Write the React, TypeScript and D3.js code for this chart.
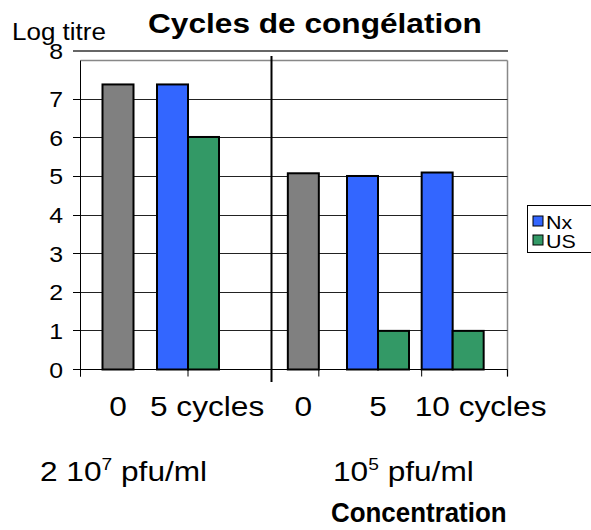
import React from "react";
import * as d3 from "d3";

// ---- data ----
const leftCategories = ["0", "5 cycles"];
const rightCategories = ["0", "5", "10 cycles"];
const leftControl: (number | null)[] = [7.38, null];
const leftNx: (number | null)[] = [null, 7.38];
const leftUS: (number | null)[] = [null, 6.02];
const rightControl: (number | null)[] = [5.08, null, null];
const rightNx: (number | null)[] = [null, 5.01, 5.1];
const rightUS: (number | null)[] = [null, 1.0, 1.0];
const yTicks = [0, 1, 2, 3, 4, 5, 6, 7, 8];
const legendNames = ["Nx", "US"];
const titleText = "Cycles de congélation";
const yTitle = "Log titre";
const concLeft = { base: "2 10", sup: "7", rest: " pfu/ml" };
const concRight = { base: "10", sup: "5", rest: " pfu/ml" };
const xTitle = "Concentration";

// ---- styles ----
const COLORS: Record<string, string> = { ctrl: "#808080", Nx: "#3366FF", US: "#339966" };
const FONT = "'Liberation Sans', Arial, Helvetica, sans-serif";
const SX = 1.13;
const W = 591, H = 530;
const plot = { left: 80.5, right: 507.5, top: 60.5, bottom: 369.5 };
const BAR_W = 31;

const y = d3.scaleLinear().domain([0, 8]).range([plot.bottom, plot.top]);
const xLeft = d3.scaleBand<string>().domain(leftCategories).range([83, 223]);
const xRight = d3.scaleBand<string>().domain(rightCategories).range([266, 490]);

type Bar = { key: string; x: number; w: number; y: number; h: number; fill: string };

function panelBars(scale: d3.ScaleBand<string>, cats: string[], ctrl: (number | null)[], nx: (number | null)[], us: (number | null)[], prefix: string): Bar[] {
  return cats.flatMap((c, i) => {
    const vals = [
      { s: "ctrl", v: ctrl[i] },
      { s: "Nx", v: nx[i] },
      { s: "US", v: us[i] },
    ].filter((d) => d.v != null) as { s: string; v: number }[];
    const center = (scale(c) as number) + scale.bandwidth() / 2;
    const inner = d3
      .scaleBand<string>()
      .domain(vals.map((d) => d.s))
      .range([center - (vals.length * BAR_W) / 2, center + (vals.length * BAR_W) / 2]);
    return vals.map((d) => ({
      key: prefix + c + d.s,
      x: inner(d.s) as number,
      w: inner.bandwidth(),
      y: y(d.v),
      h: y(0) - y(d.v),
      fill: COLORS[d.s],
    }));
  });
}

const Txt = ({ x, y: yy, anchor = "start", size, weight = "normal", sx = SX, children }: any) => (
  <text
    transform={`translate(${x},${yy}) scale(${sx},1)`}
    textAnchor={anchor}
    fontSize={size}
    fontWeight={weight}
    fontFamily={FONT}
    fill="#000"
  >
    {children}
  </text>
);

export default function App() {
  const bars = [
    ...panelBars(xLeft, leftCategories, leftControl, leftNx, leftUS, "L"),
    ...panelBars(xRight, rightCategories, rightControl, rightNx, rightUS, "R"),
  ];
  const topRule = y(8) - 9.5;
  const divX = 271.5;
  const bwL = xLeft.bandwidth();
  const bwR = xRight.bandwidth();
  const xTickPos = [
    plot.left,
    (xLeft("5 cycles") as number) + bwL / 2,
    (xRight("0") as number) + bwR / 2 + BAR_W / 2,
    (xRight("10 cycles") as number) + bwR / 2 - BAR_W,
    plot.right,
  ];
  const catLabel = (scale: d3.ScaleBand<string>, c: string, k: string) => {
    const cx = (scale(c) as number) + scale.bandwidth() / 2;
    const multi = c.includes(" ");
    return (
      <Txt key={k} x={multi ? cx - 38 : cx} y={416} anchor={multi ? "start" : "middle"} size={28}>
        {c}
      </Txt>
    );
  };
  const gy = (v: number) => Math.round(y(v) - 0.5) + 0.5;

  return (
    <svg width={W} height={H} style={{ position: "absolute", left: 0, top: 0, background: "#fff" }}>
      <rect x={0} y={0} width={W} height={H} fill="#fff" />
      {/* frame */}
      <line x1={plot.left} x2={plot.right} y1={plot.top} y2={plot.top} stroke="#888" strokeWidth={1.5} />
      <line x1={plot.right} x2={plot.right} y1={plot.top} y2={plot.bottom + 7} stroke="#888" strokeWidth={1.5} />
      {/* gridlines */}
      {yTicks
        .filter((v) => v > 0 && v < 8)
        .map((v) => (
          <line key={"g" + v} x1={plot.left} x2={plot.right} y1={gy(v)} y2={gy(v)} stroke="#222" strokeWidth={1} />
        ))}
      {/* top rule */}
      <line x1={73} x2={508} y1={topRule} y2={topRule} stroke="#333" strokeWidth={1.5} />
      {/* bars */}
      {bars.map((b) => (
        <rect key={b.key} x={b.x} y={b.y} width={b.w} height={b.h} fill={b.fill} stroke="#000" strokeWidth={2} />
      ))}
      {/* y axis */}
      <line x1={plot.left} x2={plot.left} y1={plot.top} y2={plot.bottom + 7} stroke="#000" strokeWidth={1} />
      {yTicks
        .filter((v) => v < 8)
        .map((v) => (
          <line key={"yt" + v} x1={73} x2={plot.left} y1={gy(v)} y2={gy(v)} stroke="#000" strokeWidth={1} />
        ))}
      {yTicks.map((v) => (
        <Txt key={"yl" + v} x={63} y={(v === 8 ? topRule : y(v)) + 8} anchor="end" size={22}>
          {v}
        </Txt>
      ))}
      {/* x axis */}
      <line x1={73} x2={plot.right} y1={plot.bottom} y2={plot.bottom} stroke="#000" strokeWidth={1} />
      {xTickPos.map((tx, i) => (
        <line key={"xt" + i} x1={tx} x2={tx} y1={plot.bottom} y2={plot.bottom + 7} stroke="#000" strokeWidth={1} />
      ))}
      {/* divider */}
      <line x1={divX} x2={divX} y1={56} y2={382} stroke="#000" strokeWidth={2} />
      {/* category labels */}
      {leftCategories.map((c) => catLabel(xLeft, c, "cl" + c))}
      {rightCategories.map((c) => catLabel(xRight, c, "cr" + c))}
      {/* titles */}
      <Txt x={148} y={33} size={28} weight="bold">{titleText}</Txt>
      <Txt x={12} y={40} size={23}>{yTitle}</Txt>
      {/* concentration labels */}
      <Txt x={40} y={481} size={28}>
        {concLeft.base}
        <tspan fontSize={17} dy={-11}>{concLeft.sup}</tspan>
        <tspan dy={11}>{concLeft.rest}</tspan>
      </Txt>
      <Txt x={333} y={481} size={28}>
        {concRight.base}
        <tspan fontSize={17} dy={-11}>{concRight.sup}</tspan>
        <tspan dy={11}>{concRight.rest}</tspan>
      </Txt>
      <Txt x={331} y={522} size={27} weight="bold" sx={0.96}>{xTitle}</Txt>
      {/* legend */}
      <rect x={527.5} y={205.5} width={80} height={47} fill="#fff" stroke="#000" strokeWidth={1} />
      {legendNames.map((n, i) => (
        <g key={"lg" + n}>
          <rect x={533} y={216 + i * 19} width={10} height={10} fill={COLORS[n]} stroke="#000" strokeWidth={1} />
          <Txt x={546} y={229 + i * 19} size={19}>{n}</Txt>
        </g>
      ))}
    </svg>
  );
}
